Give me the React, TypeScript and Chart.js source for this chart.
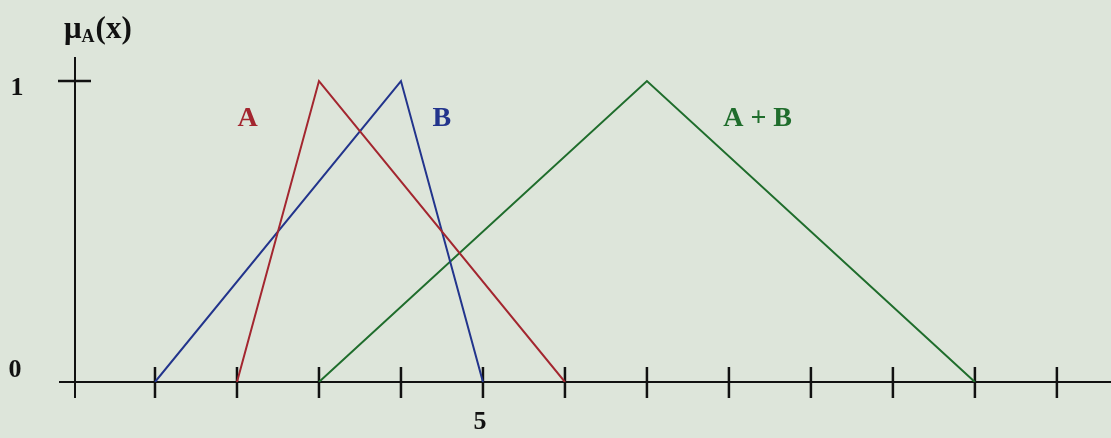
import { useEffect, useRef } from "react";
import { Chart, registerables } from "chart.js";

Chart.register(...registerables);

// Triangular fuzzy numbers (left, peak, right) and their membership grades
const membership = [0, 1, 0];
const fuzzyA = [2, 3, 6];
const fuzzyB = [1, 4, 5];
const fuzzySum = [3, 7, 11];

// Integer tick positions on the x axis, and the ones that carry a number
const xTickValues = [1, 2, 3, 4, 5, 6, 7, 8, 9, 10, 11, 12];
const xTickLabels = [5];
// Membership levels marked on the vertical axis
const yTickLabels = [0, 1];

const seriesNames = ["A", "B", "A + B"];
const seriesColors = ["#a3262f", "#22348c", "#1f6d2c"];
// Where each series name sits (centre), in data units
const seriesLabelX = [2.13, 4.5, 8.35];
const seriesLabelY = 0.875;

const BG = "#dde5da";
const INK = "#111111";
const SERIF = '"Liberation Serif", "DejaVu Serif", serif';

const points = (xs: number[]) => xs.map((x, i) => ({ x, y: membership[i] }));

const axesPlugin = {
  id: "fuzzyAxes",
  beforeDraw(chart: any) {
    const { ctx, width, height } = chart;
    ctx.save();
    ctx.fillStyle = BG;
    ctx.fillRect(0, 0, width, height);
    ctx.restore();
  },
  beforeDatasetsDraw(chart: any) {
    const { ctx, scales } = chart;
    const xs = scales.x;
    const ys = scales.y;
    const x0 = xs.getPixelForValue(0) + 2;
    const y0 = ys.getPixelForValue(0);
    const y1 = ys.getPixelForValue(1);
    ctx.save();
    ctx.strokeStyle = INK;
    ctx.lineCap = "butt";
    // horizontal axis
    ctx.lineWidth = 2;
    ctx.beginPath();
    ctx.moveTo(x0 - 16, y0);
    ctx.lineTo(chart.width, y0);
    ctx.stroke();
    // vertical axis
    ctx.beginPath();
    ctx.moveTo(x0, chart.chartArea.top);
    ctx.lineTo(x0, y0 + 16);
    ctx.stroke();
    // tick marks crossing the x axis
    ctx.lineWidth = 2.5;
    for (const v of xTickValues) {
      const px = xs.getPixelForValue(v);
      ctx.beginPath();
      ctx.moveTo(px, y0 - 15);
      ctx.lineTo(px, y0 + 16);
      ctx.stroke();
    }
    // tick mark crossing the y axis at membership 1
    ctx.beginPath();
    ctx.moveTo(x0 - 17, y1);
    ctx.lineTo(x0 + 16, y1);
    ctx.stroke();
    ctx.restore();
  },
  afterDatasetsDraw(chart: any) {
    const { ctx, scales } = chart;
    const xs = scales.x;
    const ys = scales.y;
    const x0 = xs.getPixelForValue(0);
    const y0 = ys.getPixelForValue(0);
    ctx.save();
    ctx.textBaseline = "middle";
    ctx.fillStyle = INK;
    ctx.font = `bold 26px ${SERIF}`;
    ctx.textAlign = "center";
    for (const v of yTickLabels) {
      const py = ys.getPixelForValue(v);
      ctx.fillText(String(v), v === 0 ? 15 : 17, v === 0 ? py - 12 : py + 7);
    }
    for (const v of xTickLabels) {
      ctx.fillText(String(v), xs.getPixelForValue(v) - 3, y0 + 40);
    }
    // axis title: μA(x)
    ctx.textAlign = "left";
    ctx.font = `bold 31px ${SERIF}`;
    const tx = x0 - 9;
    const ty = 30;
    ctx.fillText("\u03bc", tx, ty);
    const wMu = ctx.measureText("\u03bc").width;
    ctx.font = `bold 18px ${SERIF}`;
    ctx.fillText("A", tx + wMu, ty + 7);
    const wA = ctx.measureText("A").width;
    ctx.font = `bold 31px ${SERIF}`;
    ctx.fillText("(x)", tx + wMu + wA + 1, ty);
    // series names
    ctx.textAlign = "center";
    ctx.font = `bold 28px ${SERIF}`;
    seriesNames.forEach((name, i) => {
      ctx.fillStyle = seriesColors[i];
      ctx.fillText(
        name,
        xs.getPixelForValue(seriesLabelX[i]),
        ys.getPixelForValue(seriesLabelY)
      );
    });
    ctx.restore();
  },
};

export default function App() {
  const canvasRef = useRef<HTMLCanvasElement | null>(null);

  useEffect(() => {
    const canvas = canvasRef.current;
    if (!canvas) return;
    const chart = new Chart(canvas, {
      type: "line",
      data: {
        datasets: [fuzzyA, fuzzyB, fuzzySum].map((xs, i) => ({
          label: seriesNames[i],
          data: points(xs),
          borderColor: seriesColors[i],
          borderWidth: 2,
          pointRadius: 0,
          fill: false,
          tension: 0,
        })),
      },
      options: {
        responsive: false,
        animation: false,
        events: [],
        layout: { padding: { left: 73, right: 0, top: 57, bottom: 56 } },
        plugins: {
          legend: { display: false },
          tooltip: { enabled: false },
          title: { display: false },
        },
        scales: {
          x: { type: "linear", display: false, min: 0, max: 12.66 },
          y: { type: "linear", display: false, min: 0, max: 1.08 },
        },
      },
      plugins: [axesPlugin],
    });
    return () => chart.destroy();
  }, []);

  return (
    <div style={{ position: "fixed", left: 0, top: 0, width: 1111, height: 438, background: BG }}>
      <canvas ref={canvasRef} width={1111} height={438} style={{ display: "block" }} />
    </div>
  );
}
